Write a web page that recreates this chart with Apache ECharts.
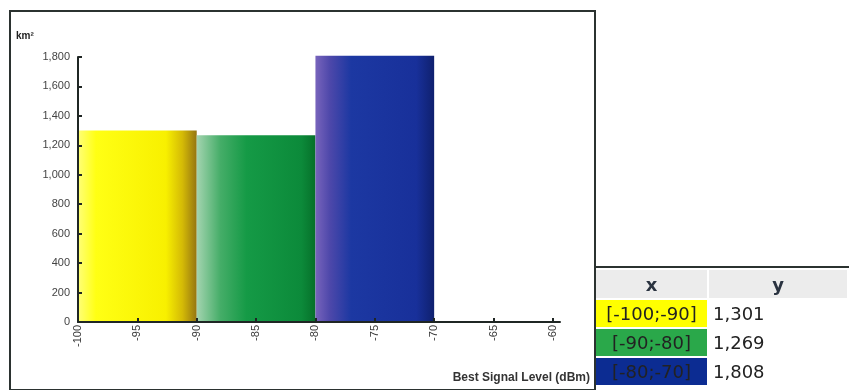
<!DOCTYPE html>
<html>
<head>
<meta charset="utf-8">
<script src="https://cdn.jsdelivr.net/npm/echarts@6/dist/echarts.min.js"></script>
<style>
  html, body { margin: 0; padding: 0; background: #fff; }
  #wrap { position: relative; width: 849px; height: 390px; overflow: hidden; }
  #chart { position: absolute; left: 0; top: 0; width: 849px; height: 390px; }
  #frame { position: absolute; left: 9px; top: 10px; width: 583px; height: 377px;
           border: 2px solid #2b3230; pointer-events: none; }
  #tbl { position: absolute; left: 594px; top: 266px; width: 255px; border-collapse: separate;
         border-spacing: 2px; border-top: 2px solid #2b3230; font-family: "DejaVu Sans", sans-serif; }
  #tbl th { background: #ececec; height: 28px; font-size: 18px; font-weight: bold; color: #2a3340; padding: 0; }
  #tbl td { height: 27px; font-size: 18px; color: #222; padding: 0 0 0 4px; white-space: nowrap; }
  #tbl td.x { text-align: center; padding: 0; width: 111px; }
</style>
</head>
<body>
<div id="wrap">
  <div id="chart"></div>
  <div id="frame"></div>
  <table id="tbl"><thead><tr><th>x</th><th>y</th></tr></thead><tbody id="tb"></tbody></table>
</div>
<script>
// ---- data ----
var binStart = [-100, -90, -80];
var binEnd = [-90, -80, -70];
var areaKm2 = [1301, 1269, 1808];
var xTicks = [-100, -95, -90, -85, -80, -75, -70, -65, -60];
var yTicks = [0, 200, 400, 600, 800, 1000, 1200, 1400, 1600, 1800];
var cellColors = ['#ffff00', '#2aa84a', '#0c2c92'];

// ---- styles ----
var gradients = [
  [[0, '#ffff78'], [0.15, '#ffff14'], [0.74, '#f8f000'], [0.88, '#d4ba06'], [1, '#957512']],
  [[0, '#a4d4b0'], [0.2, '#45ad68'], [0.42, '#159a46'], [0.88, '#0c8a3a'], [1, '#06702a']],
  [[0, '#7864bc'], [0.12, '#4e48aa'], [0.3, '#1c38a2'], [0.85, '#18309a'], [1, '#0f206e']]
];

var fmt = function (v) { return Number(v).toLocaleString('en-US'); };

var data = binStart.map(function (s, i) { return [s, binEnd[i], areaKm2[i]]; });

var chart = echarts.init(document.getElementById('chart'), null, { renderer: 'canvas' });
chart.setOption({
  animation: false,
  grid: { left: 78, top: 57, width: 482, height: 265 },
  xAxis: {
    type: 'value', min: -100, max: -59.4, z: 5,
    axisLine: { lineStyle: { color: '#1f2624', width: 2 } },
    axisTick: { inside: true, length: 4, customValues: xTicks, lineStyle: { color: '#1f2624', width: 2 } },
    axisLabel: { customValues: xTicks, rotate: 90, margin: 3, color: '#3a3a3a',
                 fontFamily: 'Liberation Sans', fontSize: 11 },
    splitLine: { show: false }
  },
  yAxis: {
    type: 'value', min: 0, max: 1800, interval: 200, z: 5,
    axisLine: { show: true, lineStyle: { color: '#1f2624', width: 2 } },
    axisTick: { show: true, inside: true, length: 4, customValues: yTicks, lineStyle: { color: '#1f2624', width: 2 } },
    axisLabel: { customValues: yTicks, margin: 8, color: '#444', fontFamily: 'Liberation Sans',
                 fontSize: 11, formatter: fmt },
    splitLine: { show: false }
  },
  graphic: [
    { type: 'text', left: 16, top: 31, style: { text: 'km²', font: 'bold 10px "Liberation Sans"', fill: '#222' } },
    { type: 'text', right: 259, top: 372, style: { text: 'Best Signal Level (dBm)',
      font: 'bold 12px "Liberation Sans"', fill: '#333' } }
  ],
  series: [{
    type: 'custom',
    z: 1,
    data: data,
    encode: { x: [0, 1], y: 2 },
    renderItem: function (params, api) {
      var p0 = api.coord([api.value(0), api.value(2)]);
      var p1 = api.coord([api.value(1), 0]);
      var i = params.dataIndex;
      var stops = gradients[i].map(function (s) { return { offset: s[0], color: s[1] }; });
      return {
        type: 'rect',
        shape: { x: p0[0], y: p0[1], width: p1[0] - p0[0], height: p1[1] - p0[1] },
        style: { fill: new echarts.graphic.LinearGradient(0, 0, 1, 0, stops) }
      };
    }
  }]
});

// ---- table ----
var tb = document.getElementById('tb');
binStart.forEach(function (s, i) {
  var tr = document.createElement('tr');
  var td1 = document.createElement('td');
  td1.className = 'x';
  td1.style.background = cellColors[i];
  td1.textContent = '[' + s + ';' + binEnd[i] + ']';
  var td2 = document.createElement('td');
  td2.textContent = fmt(areaKm2[i]);
  tr.appendChild(td1); tr.appendChild(td2);
  tb.appendChild(tr);
});
</script>
</body>
</html>
